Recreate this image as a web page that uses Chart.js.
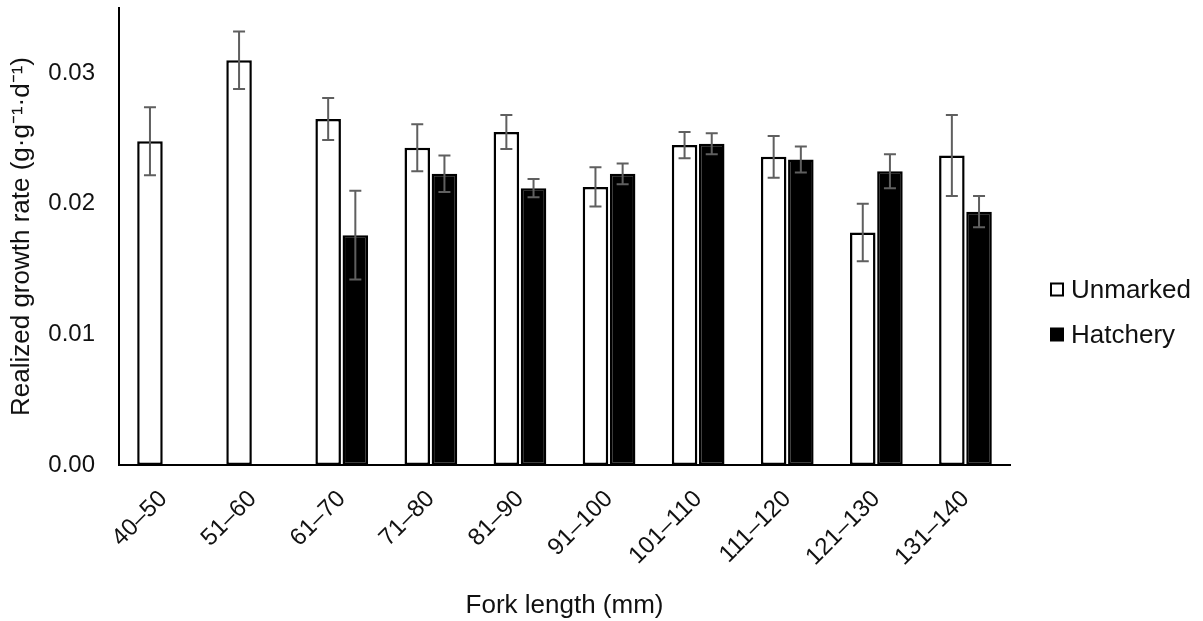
<!DOCTYPE html>
<html>
<head>
<meta charset="utf-8">
<script src="https://cdn.jsdelivr.net/npm/chart.js@4.4.1/dist/chart.umd.min.js"></script>
<style>
  html, body { margin: 0; padding: 0; background: #fff; }
  #wrap { width: 1203px; height: 621px; }
</style>
</head>
<body>
<div id="wrap"><canvas id="growthChart"></canvas></div>
<script>
// fork length classes (mm)
const lengthBins = ['40–50', '51–60', '61–70', '71–80', '81–90', '91–100', '101–110', '111–120', '121–130', '131–140'];

// mean realized growth rate, g·g-1·d-1
const unmarkedRate = [0.0248, 0.0310, 0.0265, 0.0243, 0.0255, 0.0213, 0.0245, 0.0236, 0.0178, 0.0237];
const hatcheryRate = [null, null, 0.0176, 0.0223, 0.0212, 0.0223, 0.0246, 0.0234, 0.0225, 0.0194];

// standard errors
const unmarkedErr = [0.0026, 0.0022, 0.0016, 0.0018, 0.0013, 0.0015, 0.0010, 0.0016, 0.0022, 0.0031];
const hatcheryErr = [null, null, 0.0034, 0.0014, 0.0007, 0.0008, 0.0008, 0.0010, 0.0013, 0.0012];

const yTicks = [0, 0.01, 0.02, 0.03];
const yMax = 0.035;

Chart.defaults.font.family = '"Liberation Sans", Arial, sans-serif';
Chart.defaults.color = '#111';

// draws the +/- SE whiskers on top of each bar
const errorBars = {
  id: 'errorBars',
  afterDatasetsDraw(chart) {
    const ctx = chart.ctx;
    const y = chart.scales.y;
    chart.data.datasets.forEach((ds, i) => {
      const meta = chart.getDatasetMeta(i);
      meta.data.forEach((bar, j) => {
        const v = ds.data[j];
        const e = ds.errors[j];
        if (v == null || e == null) return;
        const top = y.getPixelForValue(v + e);
        const bot = y.getPixelForValue(v - e);
        const cap = 6;
        ctx.save();
        ctx.strokeStyle = '#5f5f5f';
        ctx.lineWidth = 2;
        ctx.beginPath();
        ctx.moveTo(bar.x, top); ctx.lineTo(bar.x, bot);
        ctx.moveTo(bar.x - cap, top); ctx.lineTo(bar.x + cap, top);
        ctx.moveTo(bar.x - cap, bot); ctx.lineTo(bar.x + cap, bot);
        ctx.stroke();
        ctx.restore();
      });
    });
  }
};

// legend box to the right of the plot
const sideLegend = {
  id: 'sideLegend',
  afterDraw(chart) {
    const ctx = chart.ctx;
    const x = chart.chartArea.right + 41;
    const midY = chart.height / 2;
    ctx.save();
    ctx.font = '26px "Liberation Sans", Arial, sans-serif';
    ctx.textBaseline = 'middle';
    chart.data.datasets.forEach((ds, i) => {
      const cy = midY - 21 + i * 45;
      ctx.fillStyle = ds.backgroundColor;
      ctx.fillRect(x, cy - 6, 12, 12);
      ctx.strokeStyle = '#000';
      ctx.lineWidth = 2;
      ctx.strokeRect(x, cy - 6, 12, 12);
      ctx.fillStyle = '#111';
      ctx.fillText(ds.label, x + 20, cy + 1);
    });
    ctx.restore();
  }
};

new Chart(document.getElementById('growthChart'), {
  type: 'bar',
  data: {
    labels: lengthBins,
    datasets: [
      {
        label: 'Unmarked',
        data: unmarkedRate,
        errors: unmarkedErr,
        backgroundColor: '#ffffff',
        borderColor: '#000000',
        borderWidth: 2.5,
        borderSkipped: false,
        categoryPercentage: 0.61,
        barPercentage: 0.94
      },
      {
        label: 'Hatchery',
        data: hatcheryRate,
        errors: hatcheryErr,
        backgroundColor: '#000000',
        borderColor: '#000000',
        borderWidth: 2.5,
        borderSkipped: false,
        categoryPercentage: 0.61,
        barPercentage: 0.94
      }
    ]
  },
  options: {
    responsive: true,
    maintainAspectRatio: false,
    animation: false,
    layout: { padding: { top: 8, right: 193, bottom: 0, left: 0 } },
    plugins: {
      legend: { display: false },
      tooltip: { enabled: false }
    },
    scales: {
      x: {
        grid: { display: false, drawTicks: false },
        border: { display: true, color: '#000', width: 2 },
        ticks: {
          font: { size: 24 },
          color: '#111',
          minRotation: 45,
          maxRotation: 45,
          padding: 20,
          autoSkip: false
        },
        title: {
          display: true,
          text: 'Fork length (mm)',
          font: { size: 26 },
          color: '#111',
          padding: { top: 0, bottom: 0 }
        },
        afterFit(scale) {
          scale.height = 156;
          scale.paddingLeft = 0;
          scale.paddingRight = 0;
        }
      },
      y: {
        min: 0,
        max: yMax,
        grid: { display: false, drawTicks: false },
        border: { display: true, color: '#000', width: 2 },
        ticks: {
          stepSize: 0.01,
          font: { size: 24 },
          color: '#111',
          padding: 24,
          callback: v => v.toFixed(2)
        },
        afterBuildTicks(scale) {
          scale.ticks = yTicks.map(v => ({ value: v }));
        },
        title: {
          display: true,
          text: 'Realized growth rate (g·g⁻¹·d⁻¹)',
          font: { size: 26 },
          color: '#111',
          padding: { top: 6, bottom: 0 }
        },
        afterFit(scale) {
          scale.width = 119;
          scale.paddingTop = 0;
          scale.paddingBottom = 0;
        }
      }
    }
  },
  plugins: [errorBars, sideLegend]
});
</script>
</body>
</html>
